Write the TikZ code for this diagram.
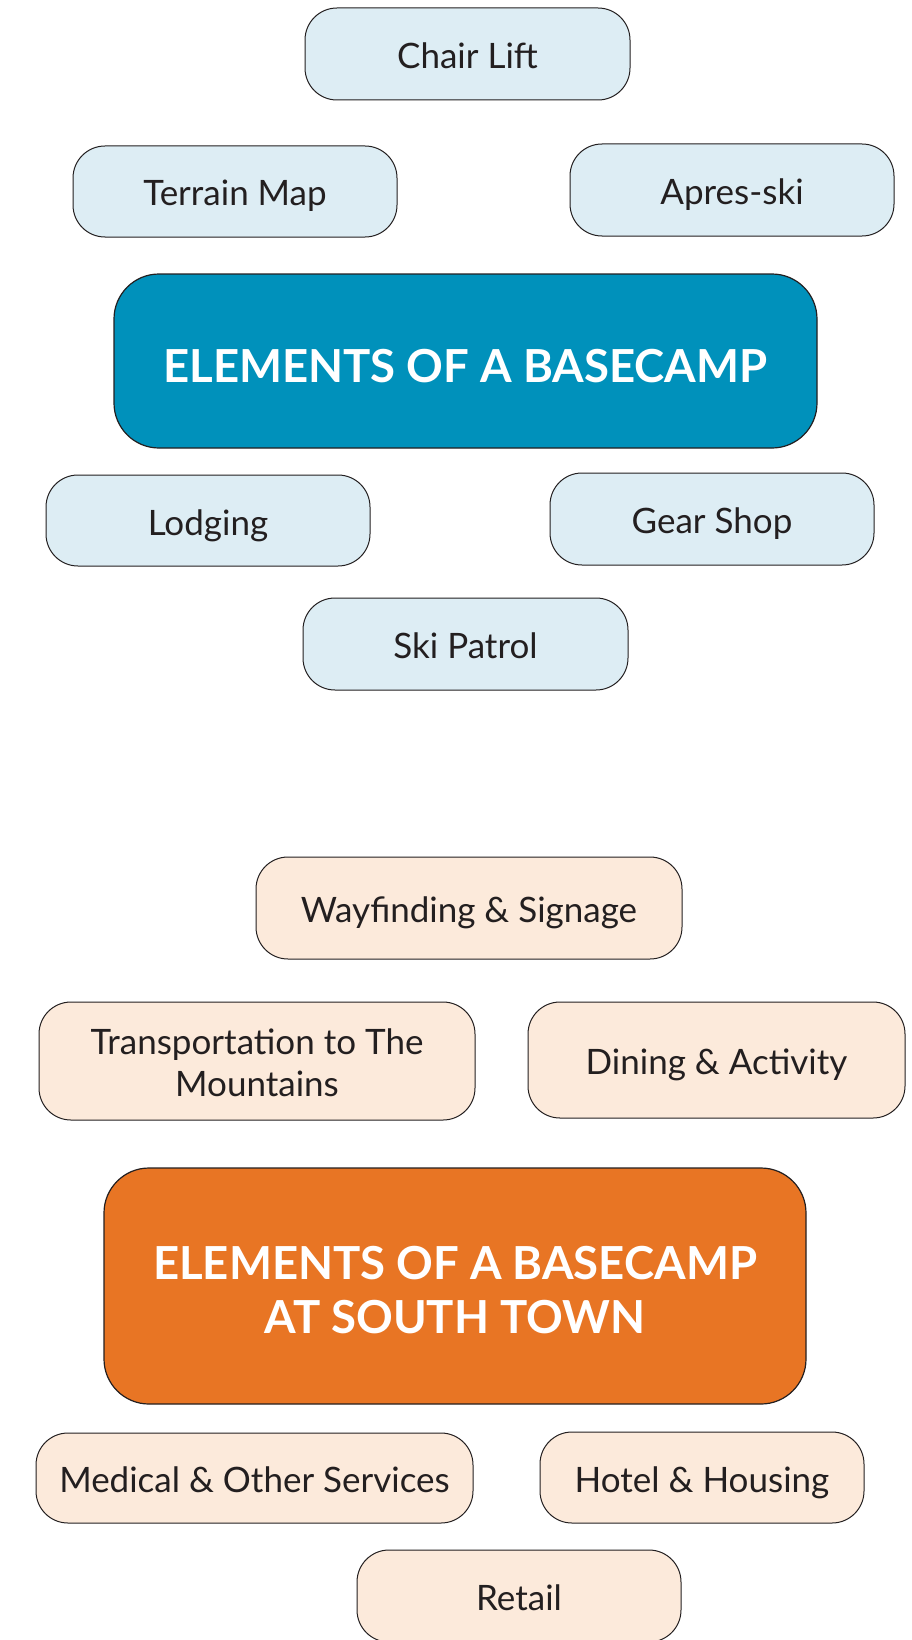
\documentclass[tikz,border=0pt]{standalone}
\usepackage{fontspec}
\setmainfont{Lato}
\definecolor{lblue}{HTML}{DDEDF4}
\definecolor{mblue}{HTML}{0091BB}
\definecolor{lorange}{HTML}{FCEADB}
\definecolor{morange}{HTML}{E87524}
\definecolor{txt}{HTML}{231F20}
\begin{document}
\begin{tikzpicture}[x=1pt,y=-1pt,
  item/.style={draw=txt,line width=1pt,rounded corners=32pt,align=center,
    font=\fontsize{35}{42}\selectfont,text=txt,inner sep=0pt,
    text height=29pt,text depth=0pt},
  twoline/.style={text height=71pt},
  bluebox/.style={item,fill=lblue},
  orbox/.style={item,fill=lorange},
  bigbox/.style={draw=txt,line width=1.2pt,rounded corners=45pt,align=center,
    font=\fontsize{45.5}{54.5}\selectfont\bfseries,text=white,inner sep=0pt,
    text height=42pt,text depth=0pt}]
\useasboundingbox (0,0) rectangle (912,1640);
\node[bluebox,minimum width=325pt,minimum height=92pt] (chair) at (467.5,54) {Chair Lift};
\node[bluebox,minimum width=324pt,minimum height=91pt] (terrain) at (235,191.5) {Terrain Map};
\node[bluebox,minimum width=324pt,minimum height=92pt] (apres) at (732,190) {Apres-ski};
\node[bigbox,fill=mblue,minimum width=703pt,minimum height=174pt] (main1) at (465.5,361) {ELEMENTS OF A BASECAMP};
\node[bluebox,minimum width=324pt,minimum height=91pt] (lodging) at (208,520.5) {Lodging};
\node[bluebox,minimum width=324pt,minimum height=92pt] (gear) at (712,519) {Gear Shop};
\node[bluebox,minimum width=325pt,minimum height=92pt] (patrol) at (465.5,644) {Ski Patrol};
\node[orbox,minimum width=426pt,minimum height=102pt] (way) at (469,908) {Wayfinding \& Signage};
\node[orbox,twoline,minimum width=436pt,minimum height=118pt] (trans) at (257,1061) {Transportation to The\\Mountains};
\node[orbox,minimum width=377pt,minimum height=116pt] (dining) at (716.5,1060) {Dining \& Activity};
\node[bigbox,fill=morange,text height=95pt,minimum width=702pt,minimum height=236pt] (main2) at (455,1286) {ELEMENTS OF A BASECAMP\\AT SOUTH TOWN};
\node[orbox,minimum width=437pt,minimum height=90pt] (medical) at (254.5,1478) {Medical \& Other Services};
\node[orbox,minimum width=324pt,minimum height=91pt] (hotel) at (702,1477.5) {Hotel \& Housing};
\node[orbox,minimum width=324pt,minimum height=92pt] (retail) at (519,1596) {Retail};
\end{tikzpicture}
\end{document}
